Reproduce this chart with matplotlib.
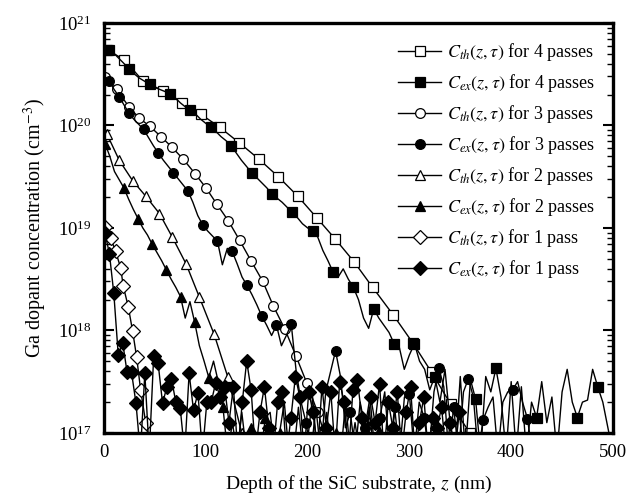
import numpy as np
import matplotlib
matplotlib.use('Agg')
import matplotlib.pyplot as plt
from matplotlib.ticker import LogLocator, LogFormatterMathtext, NullFormatter

plt.rcParams['font.family'] = ['Liberation Serif', 'DejaVu Serif']
plt.rcParams['mathtext.fontset'] = 'stix'

# --- theoretical profiles (depth in nm, log10 of concentration in cm^-3) ---
z_th4 = [2.9, 19.9, 38.6, 57.7, 76.3, 95.0, 113.9, 132.9, 152.3, 171.2, 190.3, 208.9,
         227.3, 245.6, 263.9, 284.2, 303.2, 321.9, 340.6, 359.4]
c_th4 = [20.74, 20.64, 20.43, 20.34, 20.22, 20.11, 19.98, 19.83, 19.67, 19.50, 19.31, 19.10,
         18.89, 18.67, 18.42, 18.15, 17.88, 17.59, 17.28, 17.00]

z_th3 = [1.0, 12.5, 24.6, 34.7, 45.2, 56.0, 66.5, 77.9, 89.4, 100.2, 111.0, 122.1, 133.2,
         144.4, 155.9, 166.3, 177.8, 188.6, 199.1, 209.9, 216.4]
c_th3 = [20.47, 20.35, 20.18, 20.07, 19.99, 19.89, 19.79, 19.67, 19.53, 19.39, 19.23, 19.07,
         18.88, 18.68, 18.48, 18.24, 18.01, 17.75, 17.49, 17.20, 17.00]

z_th2 = [2.7, 15.0, 28.2, 41.0, 54.5, 67.1, 80.6, 93.5, 108.3, 121.5, 135.3]
c_th2 = [19.92, 19.66, 19.46, 19.31, 19.14, 18.91, 18.65, 18.33, 17.96, 17.55, 17.00]

z_th1 = [1.0, 6.6, 11.5, 16.4, 19.0, 23.9, 28.2, 32.1, 36.0, 41.0, 45.5]
c_th1 = [19.01, 18.90, 18.77, 18.61, 18.43, 18.23, 17.99, 17.74, 17.42, 17.10, 16.85]

# --- experimental (SIMS) profiles, uniform depth steps ---
c_ex4 = [20.74, 20.70, 20.65, 20.60, 20.55, 20.50, 20.46, 20.43, 20.40, 20.37,
         20.35, 20.33, 20.31, 20.27, 20.22, 20.18, 20.15, 20.11, 20.06, 20.02,
         19.98, 19.94, 19.89, 19.85, 19.80, 19.73, 19.66, 19.60, 19.54, 19.49,
         19.44, 19.39, 19.33, 19.29, 19.25, 19.20, 19.15, 19.10, 19.04, 19.00,
         18.97, 18.91, 18.78, 18.68, 18.57, 18.52, 18.60, 18.50, 18.42, 18.30,
         18.12, 18.02, 18.21, 18.12, 18.05, 17.98, 17.87, 17.84, 17.62, 17.76,
         17.87, 17.70, 17.62, 17.42, 17.55, 17.30, 17.62, 17.10, 16.80, 17.55,
         16.80, 17.52, 17.33, 16.80, 17.55, 17.40, 17.63, 17.35, 16.80, 17.50,
         16.80, 17.45, 16.80, 17.30, 17.15, 17.50, 17.10, 17.35, 16.80, 17.40,
         17.62, 17.30, 17.15, 17.30, 17.32, 17.62, 17.45, 17.30, 17.05, 16.80]
z_ex4 = 5.0 + 5.0 * np.arange(len(c_ex4))

c_ex3 = [20.47, 20.43, 20.35, 20.28, 20.20, 20.12, 20.06, 20.01, 19.96, 19.88,
         19.80, 19.73, 19.66, 19.60, 19.54, 19.48, 19.42, 19.36, 19.25, 19.12,
         19.03, 18.97, 18.92, 18.87, 18.64, 18.80, 18.77, 18.65, 18.52, 18.44,
         18.35, 18.25, 18.14, 18.05, 17.95, 18.05, 17.85, 17.95, 18.06, 17.60,
         17.30, 17.10, 16.80, 17.25, 16.80, 17.40, 17.60, 17.80, 17.55, 17.05,
         17.20, 16.80, 17.30, 17.05, 17.35, 16.80, 17.15, 17.40, 16.80, 17.25,
         16.80, 17.35, 17.38, 16.80, 17.30, 17.15, 16.80, 17.40, 17.63, 17.45,
         16.80, 17.25, 16.80, 17.40, 17.53, 17.35, 16.80, 17.13, 17.25, 17.35,
         16.80, 17.30, 17.40, 17.42, 17.50, 17.30, 17.14, 16.80]
z_ex3 = 0.33 + 4.833 * np.arange(len(c_ex3))

c_ex2 = [19.82, 19.70, 19.55, 19.47, 19.39, 19.28, 19.18, 19.09, 19.00, 18.93,
         18.84, 18.76, 18.68, 18.59, 18.50, 18.42, 18.33, 18.12, 18.28, 18.08,
         17.85, 17.70, 17.54, 17.70, 17.50, 17.25, 16.80, 17.10, 16.80, 17.20,
         16.80, 17.05, 16.80, 16.80, 17.15, 17.20, 16.80, 17.00, 17.30, 16.80,
         16.80, 17.25, 16.80, 16.95, 17.35, 16.80, 16.80, 17.20, 16.80, 17.00,
         16.80, 17.30, 16.80, 17.10, 16.80, 16.80, 17.25, 16.80, 17.02, 16.80]
z_ex2 = 1.07 + 4.633 * np.arange(len(c_ex2))

c_ex1 = [18.95, 18.75, 18.36, 17.76, 17.88, 17.59, 17.59, 17.29, 16.80, 17.58,
         16.80, 17.75, 17.68, 17.29, 17.45, 17.53, 17.30, 17.24, 16.80, 17.58,
         17.22, 17.39, 16.80, 17.30, 17.30, 17.49, 17.35, 17.45, 17.10, 17.45,
         16.80, 17.30, 17.70, 17.42, 16.80, 17.20, 17.45, 17.05, 16.80, 17.30,
         17.40, 16.80, 17.15, 17.55, 17.35, 16.80, 17.40, 17.20, 16.80, 17.45,
         17.05, 17.40, 16.80, 17.50, 17.30, 16.80, 17.42, 17.52, 17.15, 16.80,
         17.35, 17.10, 17.48, 16.80, 17.30, 17.05, 17.40, 16.80, 17.20, 17.45,
         16.80, 17.10, 17.35, 16.80, 17.15, 17.05, 17.25, 16.80, 17.10, 16.80,
         17.20, 16.80]
z_ex1 = 1.0 + 4.35 * np.arange(len(c_ex1))

# which points of the experimental curves carry a marker
mk_ex4 = list(range(0, len(c_ex4), 4))
mk_ex3 = [1, 3, 5] + list(range(8, len(c_ex3), 3))
mk_ex2 = [0] + list(range(4, len(c_ex2), 3))
mk_ex1 = list(range(len(c_ex1)))

fig = plt.figure(figsize=(6.3, 4.97), dpi=100)
ax = fig.add_axes([0.165, 0.129, 0.808, 0.825])

def pw(v):
    return 10.0 ** np.array(v)

kw = dict(color='black', lw=1.0, ms=7, mec='black', mew=0.9)
series = [
    (z_th4, c_th4, 's', 'white', None, r'$C_{th}(z,\tau)$ for 4 passes'),
    (z_ex4, c_ex4, 's', 'black', mk_ex4, r'$C_{ex}(z,\tau)$ for 4 passes'),
    (z_th3, c_th3, 'o', 'white', None, r'$C_{th}(z,\tau)$ for 3 passes'),
    (z_ex3, c_ex3, 'o', 'black', mk_ex3, r'$C_{ex}(z,\tau)$ for 3 passes'),
    (z_th2, c_th2, '^', 'white', None, r'$C_{th}(z,\tau)$ for 2 passes'),
    (z_ex2, c_ex2, '^', 'black', mk_ex2, r'$C_{ex}(z,\tau)$ for 2 passes'),
    (z_th1, c_th1, 'D', 'white', None, r'$C_{th}(z,\tau)$ for 1 pass'),
    (z_ex1, c_ex1, 'D', 'black', mk_ex1, r'$C_{ex}(z,\tau)$ for 1 pass'),
]
for z, c, m, fc, every, lab in series:
    ax.plot(z, pw(c), marker=m, mfc=fc, markevery=every, label=lab, **kw)

ax.set_yscale('log')
ax.set_xlim(0, 500)
ax.set_ylim(1e17, 1e21)
ax.set_xticks([0, 100, 200, 300, 400, 500])
ax.yaxis.set_major_locator(LogLocator(base=10, numticks=10))
ax.yaxis.set_minor_locator(LogLocator(base=10, subs=np.arange(2, 10), numticks=20))
ax.yaxis.set_major_formatter(LogFormatterMathtext())
ax.yaxis.set_minor_formatter(NullFormatter())
ax.tick_params(axis='x', length=0, labelsize=13.5, pad=8)
ax.tick_params(axis='y', which='both', direction='in', left=True, right=True,
               labelsize=13.5, pad=9)
ax.tick_params(axis='y', which='major', length=7, width=1.5)
ax.tick_params(axis='y', which='minor', length=4, width=1.0)
for s in ax.spines.values():
    s.set_linewidth(2.4)

ax.set_xlabel('Depth of the SiC substrate, $z$ (nm)', fontsize=14, labelpad=9)
ax.set_ylabel('Ga dopant concentration (cm$^{-3}$)', fontsize=14.5, labelpad=6)

ax.legend(loc='upper right', frameon=False, fontsize=13, handlelength=2.4,
          handletextpad=0.3, labelspacing=0.5, borderaxespad=0.6)

plt.savefig('out.png', dpi=100)
